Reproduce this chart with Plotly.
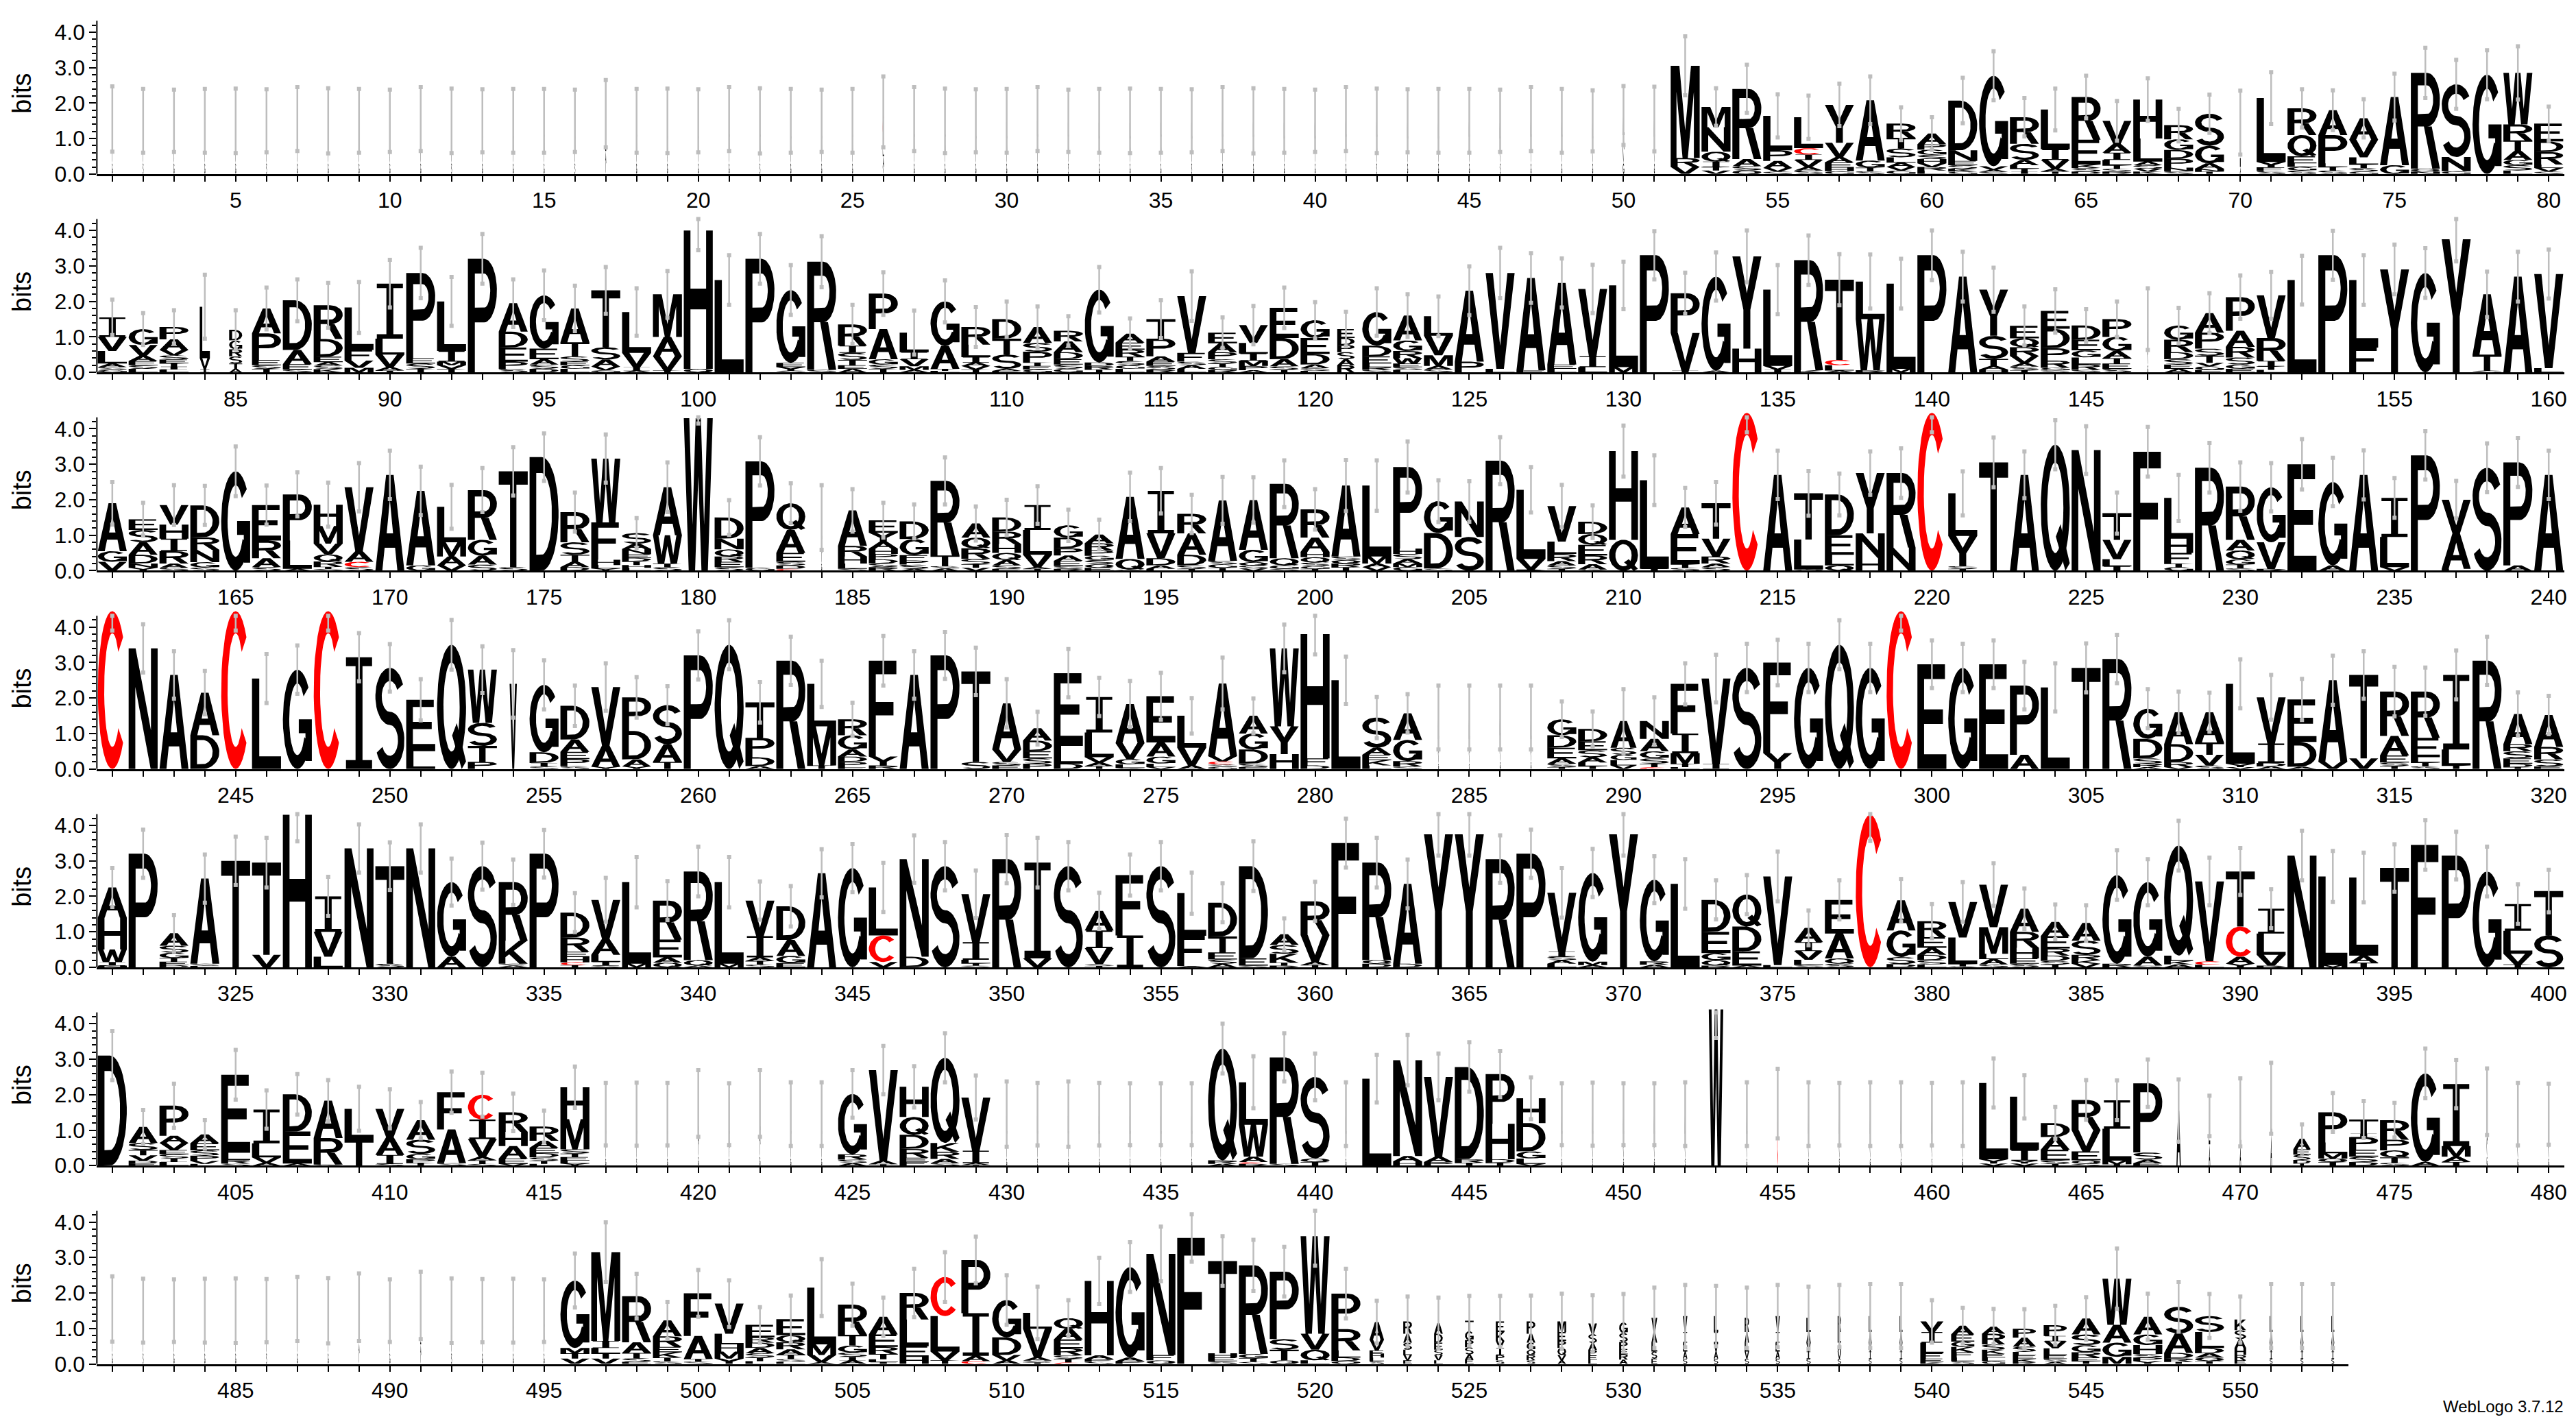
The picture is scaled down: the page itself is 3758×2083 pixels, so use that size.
import numpy as np
import plotly.graph_objects as go

# One token per position: letters from the top of the stack down, height in bits.
# A leading "w.." token is the stack width (columns that are mostly gaps are thin).
r1_stack = [
    "w.03 L.5 A.4 V.35 G.3", "w.03 L.45 A.4 V.35 S.3", "w.03 L.5 A.4 V.3 G.3", "w.03 L.5 A.35 V.35 G.3", "w.03 L.45 A.4 V.35 G.3",
    "w.03 L.5 A.4 V.3 S.3", "w.03 L.5 A.4 V.35 G.3", "w.03 L.45 A.4 V.35 G.3", "w.03 L.5 A.4 V.3 G.3", "w.03 L.5 A.35 V.35 G.3",
    "w.03 L.5 A.4 V.35 G.3", "w.03 L.45 A.4 V.35 S.3", "w.03 L.5 A.4 V.3 G.3", "w.03 L.5 A.35 V.35 G.3", "w.03 L.45 A.4 V.35 G.3",
    "w.03 L.5 A.4 V.3 S.3", "w.03 C.6 L.45 A.35 V.3", "w.03 L.45 A.4 V.35 G.3", "w.03 L.5 A.4 V.3 G.3", "w.03 L.5 A.35 V.35 G.3",
    "w.03 L.5 A.4 V.35 G.3", "w.03 L.45 A.4 V.35 S.3", "w.03 L.5 A.4 V.3 G.3", "w.03 L.5 A.35 V.35 G.3", "w.03 L.45 A.4 V.35 G.3",
    "w.04 C.9 L.35 A.3 V.2", "w.03 L.5 A.4 V.35 G.3", "w.03 L.45 A.4 V.35 G.3", "w.03 L.5 A.4 V.3 G.3", "w.03 L.5 A.35 V.35 G.3",
    "w.03 L.5 A.4 V.35 G.3", "w.03 L.45 A.4 V.35 S.3", "w.03 L.5 A.4 V.3 G.3", "w.03 L.5 A.35 V.35 G.3", "w.03 L.45 A.4 V.35 G.3",
    "w.03 L.5 A.4 V.3 S.3", "w.03 L.5 A.4 V.35 G.3", "w.03 L.45 A.4 V.35 G.3", "w.03 L.5 A.4 V.3 G.3", "w.03 L.5 A.35 V.35 G.3",
    "w.03 L.5 A.4 V.35 G.3", "w.03 L.45 A.4 V.35 S.3", "w.03 L.5 A.4 V.3 G.3", "w.03 L.5 A.35 V.35 G.3", "w.03 L.45 A.4 V.35 G.3",
    "w.03 L.5 A.4 V.3 S.3", "w.03 L.5 A.4 V.35 G.3", "w.03 L.45 A.4 V.35 G.3", "w.03 L.5 A.4 V.3 G.3", "w.05 L.55 A.4 V.4 G.3",
    "w.03 L.5 A.4 V.35 G.3", "M2.6 R.25 V.2", "M.57 N.69 Q.28 I.15 T.1 V.1", "R1.98 A.2 S.12 Q.1", "L.97 P.3 A.2 V.1 S.07",
    "L.87 C.18 I.15 V.2 A.1 S.1", "Y1.07 V.4 A.15 E.15 H.1 G.08", "A1.7 G.2 T.1 S.08", "R.4 T.3 S.25 L.15 A.12 V.1 G.1", "A.3 P.15 G.15 S.12 H.12 V.1 R.1 L.1",
    "D1.4 N.3 E.12 S.1 K.08 G.07", "G2.55 V.1 A.06 S.06", "R.75 S.45 A.15 L.1 T.08 I.07", "L1.12 I.3 V.25 A.08 T.07", "R1.2 E.7 K.1 S.1 D.07",
    "V.65 A.25 I.2 L.15 T.1 S.08 R.07", "H1.1 L.65 A.1 S.1 V.08 K.07", "R.4 G.3 D.25 P.25 N.1 S.08", "S.9 G.5 A.15 N.08 T.07", "w.03 L.6 V.4 I.25 A.2",
    "L1.8 Y.15 F.1 S.09", "R.75 Q.6 E.2 L.1 G.1 S.1", "A.7 P.8 L.1 T.1 S.1", "A.6 V.5 L.2 T.1 S.1 G.07", "A1.92 G.25",
    "R2.7 Q.08 N.07", "S2.05 N.4 G.08", "G2.8", "W1.45 R.45 T.3 A.25 G.15 S.15 L.1", "E.5 D.3 R.35 L.1 V.1 S.07",
]
r1_err = [
    .92, .9, .88, .9, .91, .89, .9, .92, .9, .88,
    .9, .91, .89, .9, .9, .88, .95, .9, .91, .89,
    .9, .92, .9, .88, .9, 1.0, .9, .91, .89, .9,
    .9, .88, .9, .91, .9, .89, .9, .92, .9, .88,
    .9, .91, .89, .9, .9, .88, .9, .9, .86, .83,
    .91, .83, .53, .68, .61, .61, .6, .67, .46, .46,
    .64, .69, .54, .59, .6, .56, .6, .46, .54, .9,
    .73, .54, .56, .54, .66, .71, .69, .69, .75, .48,
]

r2_stack = [
    "I.55 V.4 L.35 A.1 S.08 G.07", "G.45 V.3 A.15 E.12 S.1 L.1", "P.35 A.3 V.15 S.12 E.1 T.1 I.08 L.08", "w.35 L1.45 V.3 I.1", "w.45 D.3 G.25 R.2 S.2 T.15 A.1",
    "A.7 P.75 E.15 S.1 T.1", "D1.4 A.4 E.15 S.08", "R.95 D.5 E.15 A.1 S.1 K.09", "L1.2 F.3 V.2 M.13", "I1.55 L.45 V.35 A.1 T.05",
    "P2.4 E.15 S.15 T.1", "L1.4 I.3 M.1 V.1 T.1", "P3.2", "A.8 D.45 E.4 P.2 S.1", "G1.5 E.3 A.15 S.12 D.1",
    "A.95 T.4 S.15 E.1 G.1 L.1", "T1.6 S.35 A.2 V.1 G.06", "L1.15 V.4 I.1 A.05", "M1.2 A.55 V.4 T.05", "H3.9 Q.1",
    "L2.6", "P3.2", "G2.05 E.12 Y.1 S.05", "R3.05 S.07", "R.6 I.2 S.2 T.15 E.1 A.1",
    "P1.0 A.85 G.15 S.12 T.1", "L.55 I.2 V.2 M.1 A.07", "G1.25 A.65 T.06 L.04", "R.5 L.35 I.15 A.1 V.1 T.08", "D.55 T.45 S.4 A.06 E.04",
    "A.45 S.25 P.3 T.1 E.1 G.08", "R.3 A.3 D.2 E.15 S.12 G.1", "G2.05 D.1 R.1 T.08", "A.25 E.2 R.2 T.12 S.12 G.1 L.1", "T.55 P.5 A.15 E.12 S.1 R.08",
    "V1.6 F.25 S.1 A.1 L.1", "E.3 A.25 P.2 S.12 T.1 G.08 R.07", "V.5 L.3 I.2 M.15 P.12 A.06", "E.85 D.6 A.2 S.1 T.07", "G.5 E.45 D.3 A.1 S.08 L.04",
    "w.6 E.25 D.2 P.2 S.2 A.17 R.2", "G.95 D.3 E.2 L.1 R.08 S.07", "A.7 G.3 R.2 W.15 E.1 S.08 L.07", "L.55 V.55 M.3 A.1 S.08", "A2.0 P.3",
    "V2.7 L.1", "A2.6 E.06", "A2.3 E.12 L.1", "V1.9 I.3 L.15", "L2.3 M.15",
    "P3.3", "P1.12 V1.06 I.05", "G2.65 A.05", "Y2.6 H.67", "L2.15 V.1 I.08",
    "R3.1 K.06", "T2.26 C.15 L.15 A.05", "L1.06 W1.44 R.06", "L2.4 M.1", "P3.3",
    "A2.7", "Y1.3 S.65 T.2 A.1 H.08", "E.35 Q.25 R.25 V.2 A.1 S.1 T.06", "E.5 D.55 P.35 R.2 G.07 S.06", "D.4 E.3 G.2 L.2 R.15 S.07",
    "P.5 G.4 A.2 T.15 E.15 S.1", "w.03 L.6 A.4 V.3 G.2", "G.4 R.35 D.2 S.15 E.12 A.1", "A.55 P.45 S.2 T.2 V.1 G.1 E.07", "P.95 A.45 R.3 S.2 G.12 E.1",
    "V1.2 R.65 I.15 T.1 L.07", "L2.6", "P3.3", "L1.9 F.7", "Y2.9",
    "G2.8", "Y3.75", "A1.7 T.45 S.05", "A2.7", "V2.65 L.12",
]
r2_err = [
    .5, .45, .47, .9, .55, .59, .59, .63, .72, .67,
    .71, .69, .7, .67, .7, .64, .66, .67, .66, .56,
    .7, .7, .7, .72, .55, .6, .62, .59, .56, .5,
    .58, .41, .64, .43, .53, .7, .43, .54, .57, .51,
    .49, .67, .6, .56, .69, .71, .7, .69, .68, .67,
    .68, .58, .68, .73, .69, .7, .72, .76, .7, .7,
    .7, .62, .55, .61, .46, .5, .87, .5, .56, .61,
    .66, .69, .69, .7, .7, .7, .62, .64, .7, .69,
]

r3_stack = [
    "A1.35 G.3 V.25", "E.3 S.35 A.35 D.25 N.12 Y.08", "V.55 H.4 I.35 R.35 A.12 S.08", "D.9 R.35 N.35 G.15 S.09", "G2.8",
    "E1.0 R.5 A.25 S.1", "P1.3 L.8 A.05", "H.6 M.5 V.3 Q.2 R.15 T.06 S.05", "V1.8 A.3 C.15 S.1", "A2.7",
    "A2.1 G.15", "L1.0 M.4 A.25 V.15", "R1.4 G.45 A.25 S.17", "T2.7 S.1", "D3.2",
    "R.85 S.35 T.2 A.15 D.1", "W1.8 F1.05 H.15 L.1 Y.06", "S.3 A.15 N.15 E.1 D.1 T.1 H.08 L.08", "A1.35 W.8 T.1 S.1", "W4.3",
    "D.6 N.3 Q.2 R.15 E.15 S.1", "P3.0 G.08", "Q.75 A.65 E.25 S.1 D.1 C.05", "w.03 L.6 A.4 V.3 G.2", "A1.0 R.3 H.2 L.15 S.05",
    "E.35 Y.25 A.2 H.15 P.15 D.12 S.1 R.1", "D.5 G.45 F.15 P.12 S.12 A.05", "R2.1 T.3 S.07 A.06", "A.4 Q.3 R.3 S.15 T.1 V.08", "D.4 R.35 H.25 Q.2 A.15 S.1 E.05",
    "I.7 L.7 V.35 A.05 T.05", "G.35 D.3 P.2 A.15 E.15 S.08 R.05", "A.25 R.2 P.15 G.12 S.12 Q.1 E.08", "A1.75 Q.3 S.03", "I1.2 V.7 D.2 A.1 L.05",
    "R.55 A.6 D.3 S.1 T.05", "A1.7 S.1 G.1 T.08", "A1.4 G.35 Q.1 S.08 V.06", "R2.1 Q.2 G.1 S.05", "R.8 A.4 H.15 Q.15 S.1 G.08 T.05",
    "A2.0 S.1 Q.1 R.1 T.1", "L2.0 M.2 A.1 V.1", "P2.3 H.15 S.15 A.12 M.1 G.1", "G.9 D1.0 S.06", "N1.0 S.95",
    "R3.1", "L1.95 V.3 R.03", "V1.0 L.35 R.2 A.12 S.1 T.05", "D.35 Q.3 E.3 R.25 A.15 S.03", "H2.5 Q.87",
    "L2.5 I.05", "A.75 E.85 T.1 S.08", "T1.0 V.5 R.2 A.1 S.1", "C4.45", "A2.7",
    "T1.3 L.85 Q.03", "D1.15 E.55 L.3 Q.15", "Y1.7 N.7 H.35", "R2.1 N.65", "C4.45",
    "L1.2 Y.85 S.08 T.05", "T3.05", "A2.7", "Q3.55", "N3.4",
    "T.75 V.55 L.2 I.12", "F3.35", "L1.15 H.4 F.3 T.1 G.1", "R2.9", "R1.5 A.3 Q.25 G.15 T.1 S.07",
    "G1.55 V.75 R.05", "E3.0", "G2.35 A.15", "A2.7", "I1.1 L.85 V.1",
    "P3.25", "V.95 A1.0 L.05", "S2.9", "P2.9 A.15", "A2.7",
]
r3_err = [
    .6, .46, .56, .55, .7, .55, .62, .62, .68, .68,
    .68, .62, .62, .68, .67, .55, .68, .42, .7, .15,
    .49, .68, .56, .91, .6, .49, .48, .66, .48, .5,
    .53, .44, .42, .68, .64, .54, .66, .64, .66, .57,
    .72, .71, .72, .59, .57, .66, .64, .6, .46, .72,
    .7, .55, .6, .55, .68, .63, .59, .61, .7, .55,
    .62, .7, .66, .69, .67, .58, .7, .65, .7, .68,
    .68, .71, .68, .69, .56, .68, .53, .69, .69, .68,
]

r4_stack = [
    "C4.45", "N3.4", "A2.65", "A1.2 D.95", "C4.45",
    "L2.55", "G2.8", "C4.45", "I3.15", "S2.85",
    "E1.45 L.5", "Q3.5", "W1.5 S.65 T.45 P.2", "w.25 V2.4", "G1.9 D.3 I.1 S.07",
    "D.95 A.35 E.2 P.2 S.08", "V1.65 A.6 Y.06", "P.95 D.8 A.2 Y.07", "S1.1 A.5 T.2", "P3.2",
    "Q3.5", "T1.0 P.55 D.25 A.08", "R3.05", "L1.2 M1.1 T.1", "R.45 G.4 A.2 D.15 P.15 F.05",
    "F2.7 Y.25 R.1", "A2.65", "P3.2", "T2.55 S.2", "A1.3 V.35 S.1 E.1",
    "A.35 D.3 E.2 S.15 P.15", "E2.05 L.5 D.15", "I1.0 L.7 V.15 A.1 T.08", "A1.1 V.45 G.15 L.1 S.03", "E1.3 A.4 G.2 L.1 V.05",
    "L.9 V.5 A.1", "A2.05 V.15 C.08 S.07 G.06", "A.5 G.45 D.4 S.1 E.05", "W2.2 Y.78 H.42", "H3.5 F.2 D.1",
    "L2.5", "S.85 A.2 E.15 K.15 L.1", "A.75 G.6 R.15 S.07", "w.03 L.6 A.4 V.3 G.15", "w.03 L.6 A.4 V.3 S.15",
    "w.03 L.5 A.45 V.3 G.2", "w.03 L.6 A.4 V.25 G.2", "G.45 D.35 E.3 A.15 S.1 T.05", "D.35 E.25 S.2 A.15 L.1 T.08", "w.9 A.75 S.2 G.15 L.15 V.1",
    "N.5 A.35 G.2 S.15 T.1 C.05", "F1.4 I.55 M.3 T.1 L.05", "V2.4 I.15", "S2.85", "F2.55 Y.45",
    "G2.85", "Q3.5", "G2.85", "C4.45", "E2.95",
    "G2.85", "E2.95", "P1.95 A.4", "L2.3", "T2.85",
    "R3.1", "G.85 D.55 S.15 R.1 A.05", "A.9 D.5 R.15 V.05", "A.85 T.35 V.3 S.1", "L2.25 Y.1 V.05",
    "V1.3 I.55 D.1 A.07", "E1.2 D.7 A.06", "A2.3 V.2", "T2.35 V.3", "R1.25 A.55 E.2 S.1 T.08",
    "R1.3 E.55 L.15 T.1 S.08", "I2.1 L.45 T.1", "R3.05", "A.85 R.2 S.2 E.15 D.1 T.05", "A.9 R.35 S.2 E.07",
]
r4_err = [
    .55, .68, .67, .61, .55, .69, .68, .55, .68, .67,
    .58, .7, .66, .95, .69, .57, .67, .57, .53, .68,
    .69, .57, .68, .65, .47, .7, .67, .66, .67, .68,
    .46, .68, .54, .65, .66, .5, .73, .49, .67, .57,
    .67, .58, .54, .9, .9, .9, .9, .5, .49, .9,
    .67, .58, .67, .68, .64, .68, .69, .68, .55, .67,
    .68, .67, .67, .68, .69, .68, .55, .58, .55, .69,
    .63, .58, .69, .67, .7, .68, .69, .68, .61, .54,
]

r5_stack = [
    "A.85 H.9 W.35 I.1 N.05", "P3.2", "A.35 S.2 G.15 T.1 E.1 D.06", "A2.4 S.06 L.04", "T3.0",
    "T2.6 V.35", "H4.3", "I1.0 V.7 L.3", "N3.35", "T2.75 S.1",
    "N3.35", "G2.1 A.3", "S2.85", "R1.65 K.65 S.05 A.05", "P3.2",
    "D.7 R.4 E.15 H.15 C.08 T.06", "V1.1 A.45 L.2 I.1 S.05", "L2.3 M.1", "R1.1 E.5 A.15 Q.13", "R2.5 Q.15 A.05",
    "L2.3 M.1", "V1.0 I.6 A.1 T.1 S.08", "D.95 A.45 G.2 E.12", "A2.65", "G2.8",
    "L1.35 C.75 V.15", "N2.75 D.3", "S2.85", "V1.35 I.5 L.1 T.06 S.05", "R3.05",
    "I2.7 V.25", "S2.85", "A.55 I.5 V.45 S.05 T.04", "F1.7 I.9", "S2.85",
    "L1.2 F.85 A.04", "D.95 T.45 E.2 S.12 A.1", "D2.6 E.2 S.05", "A.3 S.25 K.25 T.08 R.05", "R.95 V.75 A.1 T.06",
    "F3.5", "R2.75 Q.1 D.1", "A2.25 D.1", "Y3.75", "Y3.75",
    "R3.05", "P3.2", "V1.65 I.15 S.1 A.1 L.1", "G2.5 M.1 A.06", "Y3.75",
    "G2.3 R.1 A.07", "L2.35", "D.9 E.6 G.2 Q.15 R.05", "Q.9 D.7 E.4 A.05", "V2.5 L.06",
    "A.4 I.25 V.25 L.15 S.06", "E.95 A.7 Q.15 S.1", "C4.3", "A.85 G.75 S.2 D.09", "R.45 E.3 A.2 D.15 S.12 L.08",
    "V1.0 L.75 T.06 S.03", "V1.2 M.75 L.15 A.15 S.08", "A.65 R.45 H.3 E.15 S.1", "A.4 E.35 R.2 D.15 S.1 T.08", "A.5 S.4 R.15 K.1 V.1",
    "G2.5 R.1", "G2.1 A.25 S.05", "Q3.1 L.15 K.1 A.08", "V2.25 C.1 L.07", "T1.55 C.85 A.2 Y.1",
    "I.7 L.6 V.3 R.05", "N3.15", "L2.5 M.06", "L2.2 A.2 T.13", "T2.8",
    "F3.45", "P3.15", "G2.7", "I.75 L.65 V.3 T.08", "T1.25 S.9",
]
r5_err = [
    .55, .68, .51, .68, .68, .7, .75, .55, .68, .67,
    .68, .66, .66, .64, .67, .55, .62, .71, .55, .7,
    .71, .54, .57, .68, .68, .69, .67, .68, .67, .68,
    .7, .68, .51, .58, .68, .58, .55, .7, .45, .55,
    .69, .7, .69, .6, .6, .67, .68, .7, .68, .6,
    .66, .7, .55, .55, .7, .49, .55, .74, .6, .48,
    .56, .6, .57, .49, .5, .7, .65, .7, .67, .66,
    .55, .7, .72, .7, .67, .7, .67, .7, .56, .6,
]

r6_stack = [
    "D3.1", "A.45 S.2 T.15 V.15 D.08 E.06", "P.85 A.2 V.2 E.12 S.12 I.1 L.1", "A.25 E.2 S.15 P.15 V.08 L.05", "E2.2 L.2 R.1 S.06",
    "I.95 L.4 V.15 A.08", "D1.05 E.9 A.06", "A1.05 R.75 S.03", "L.85 T.75", "V.8 A.5 I.25 S.05",
    "A.55 S.4 G.15 P.1 T.08", "F1.05 A.95 S.07", "C.7 I.55 V.5 A.1 T.1 S.05", "R.55 H.4 A.35 E.15 V.05", "R.4 A.2 E.15 D.12 S.1 T.08 L.05",
    "H.9 M.85 S.12 T.1 E.1 L.08 Y.06", "w.03 L.55 A.4 V.3 G.2", "w.03 L.55 A.4 V.3 S.2", "w.03 L.55 A.4 V.3 G.2", "w.03 L.75 A.4 V.35 G.25",
    "w.03 L.55 A.4 V.3 G.2", "w.03 L.75 A.4 V.35 G.25", "w.03 L.55 A.4 V.3 G.2", "w.03 L.55 A.4 V.3 G.2", "G1.7 R.15 S.1 A.07",
    "V2.55 A.1 T.04", "H.85 Q.5 D.4 R.25 E.12 F.1", "Q2.4 K.25 R.2 A.12 S.07", "V1.5 I.35 A.05 T.02", "w.03 L.55 A.4 V.3 G.2",
    "w.03 L.55 A.4 V.3 S.2", "w.03 L.55 A.4 V.3 G.2", "w.03 L.55 A.4 V.3 G.2", "w.03 L.55 A.4 V.3 S.2", "w.03 L.55 A.4 V.3 G.2",
    "w.03 L.55 A.4 V.3 G.2", "Q3.15 R.1 A.05", "L1.2 W.9 A.15 C.05 R.05", "R3.0 S.05", "S2.3 Q.1 T.1",
    "w.03 L.55 A.4 V.3 G.2", "L2.45", "N2.7 A.15 H.12", "V2.25 A.15 P.1", "D2.6 R.1 T.08",
    "P1.4 H1.0 D.1 T.08", "H.7 D.8 G.2 L.15 V.05", "w.03 L.55 A.4 V.3 G.2", "w.03 L.55 A.4 V.3 S.2", "w.03 L.55 A.4 V.3 G.2",
    "w.03 L.55 A.4 V.3 G.2", "w.03 L.55 A.4 V.3 S.2", "w.5 W4.4", "w.03 L.55 A.4 V.3 G.2", "w.03 C1.75",
    "w.03 L.55 A.4 V.3 G.2", "w.03 L.55 A.4 V.3 S.2", "w.03 L.55 A.4 V.3 G.2", "w.03 L.55 A.4 V.3 G.2", "w.03 L.55 A.4 V.3 S.2",
    "w.03 L.55 A.4 V.3 G.2", "L2.15 Y.12 V.06", "L1.5 I.3 Y.08 V.06", "D.4 A.35 E.3 S.1 T.05", "R.85 V.6 E.25 Q.1 S.05",
    "I.8 L.9 M.1 T.04", "P1.95 S.2 A.1 E.07", "w.15 A1.55", "w.05 L.8 A.6", "w.05 L.9 A.6",
    "w.05 L1.0 A.9", "w.6 A.3 E.15 S.15 D.1 T.06", "P.85 L.3 M.15 Q.1 T.1", "T.4 I.1 P.35 E.2 S.15 D.1", "R.55 P.3 Q.2 T.15 S.08",
    "G2.5 A.1", "I1.75 M.3 A.15 T.1", "w.03 L.75 A.45 V.35 G.25", "w.03 L.55 A.4 V.3 G.2", "w.03 L.55 A.4 V.3 G.2",
]
r6_err = [
    .69, .48, .62, .4, .7, .54, .57, .58, .62, .55,
    .51, .58, .62, .53, .45, .58, .88, .89, .88, .94,
    .87, .94, .9, .9, .67, .68, .58, .69, .62, .92,
    .88, .92, .88, .87, .87, .87, .7, .73, .68, .66,
    .9, .67, .71, .66, .7, .65, .59, .87, .89, .87,
    .87, .9, .8, .9, .98, .9, .88, .9, .9, .88,
    .9, .69, .61, .45, .56, .56, .67, .88, .57, .96,
    1.0, .4, .55, .52, .49, .7, .68, .94, .88, .86,
]

r7_stack = [
    "w.03 L.5 A.4 V.35 G.3", "w.03 L.45 A.4 V.35 S.3", "w.03 L.5 A.4 V.3 G.3", "w.03 L.5 A.35 V.35 G.3", "w.03 L.45 A.4 V.35 G.3",
    "w.03 L.5 A.4 V.3 S.3", "w.03 L.5 A.4 V.35 G.3", "w.03 L.45 A.4 V.35 G.3", "w.03 C.6 L.4 A.3 V.3", "w.03 L.5 A.35 V.35 G.3",
    "w.03 C.7 L.4 A.3 V.25", "w.03 L.45 A.4 V.35 S.3", "w.03 L.5 A.4 V.3 G.3", "w.03 L.5 A.35 V.35 G.3", "w.03 L.45 A.4 V.35 G.3",
    "G1.9 M.15 T.15 V.15", "M2.5 I.2 L.15 T.15 V.15", "R1.3 A.3 T.15 S.1 E.06", "A.45 R.3 E.15 K.15 T.1 S.08", "F1.2 A.65 T.07 S.07",
    "V.85 L.3 H.2 M.2 Y.15", "E.35 R.15 D.15 A.15 S.12 T.1 L.08", "E.45 Q.2 R.2 A.15 T.12 S.08 L.06", "L1.6 M.3 V.2 A.05", "R.85 T.3 G.2 S.12 I.1 A.1",
    "A.5 E.35 R.2 T.15 L.08 I.05", "R.75 L.75 E.3 H.2", "C1.1 L1.0 V.25 T.1", "P1.5 I1.2 A.15 C.08", "G1.05 D.5 V.15 A.1",
    "L.45 V.8 A.1 S.05 T.04", "Q.3 A.3 E.25 R.2 S.1 T.1 C.04", "H2.1 A.1 P.08 S.06", "G2.55 A.1 P.08", "N2.85 F.15 Q.1",
    "F3.55", "T2.6 H.12 E.1 S.08", "R2.5 G.12 T.1 S.06", "P1.9 S.3 T.3 Q.1", "W2.75 V.45 Q.3 L.1",
    "P1.0 R.6 L.2 D.1 Q.08", "w.5 A.5 V.3 E.1 H.1 L.1 S.08", "w.3 R.35 A.25 S.2 L.15 V.15 E.1", "w.3 A.3 D.25 E.2 S.15 V.15 L.1", "w.3 T.3 G.25 P.2 S.2 A.15 E.12",
    "w.3 E.3 K.25 V.2 I.2 P.15 S.1", "w.3 P.35 A.25 G.2 Q.15 R.15 S.1", "w.3 M.3 E.25 P.2 Q.2 V.15 A.1", "w.3 V.3 S.25 A.2 P.15 E.12 L.12", "w.3 G.3 S.25 P.2 E.15 R.15 A.12",
    "w.2 V.4 A.3 L.25 S.2 E.15", "w.15 V.45 I.3 L.25 A.2 S.15", "w.15 L.45 I.3 V.25 A.2 S.15", "w.15 R.4 A.3 L.25 V.2 S.15", "w.15 V.45 I.3 L.25 A.2 S.15",
    "w.15 L.4 A.3 V.25 I.2 S.15", "w.12 R.45 L.3 A.25 V.2 S.15", "w.1 L.45 A.3 V.25 I.2 S.15", "w.1 L.45 A.3 V.25 I.2 S.15", "w.8 V.3 I.3 L.3 F.15 E.1 K.05",
    "w.8 A.25 E.2 G.15 K.15 F.15 L.1 S.08", "w.8 A.2 R.3 S.15 K.12 E.1 L.1 G.08", "w.8 P.25 A.25 S.15 L.1 E.1 K.08 R.06", "w.8 P.3 I.15 V.2 L.2 E.1 S.08 A.06", "A.45 S.3 G.2 R.15 E.1 T.08",
    "W1.3 A.5 G.4 M.2", "A.5 G.3 H.25 S.1 P.1 Y.08", "S.75 A.55 D.15 R.1 T.06", "S.45 L.45 D.15 A.12 Q.1 T.08", "w.4 K.3 S.25 A.25 H.2 R.15 E.1",
    "w.1 L.45 A.3 V.25 I.2 S.15", "w.1 L.45 A.3 V.25 I.2 S.15", "w.1 L.45 A.3 V.25 I.2 S.15",
]
r7_err = [
    .92, .9, .88, .9, .91, .89, .9, .92, .95, .88,
    .95, .91, .89, .9, .88, .76, .84, .63, .52, .66,
    .66, .5, .67, .8, .59, .54, .68, .7, .66, .7,
    .74, .51, .65, .7, .77, .67, .7, .72, .7, .83,
    .7, .6, .7, .72, .7, .72, .73, .78, .8, .8,
    .85, .88, .85, .85, .88, .88, .88, .9, .9, .6,
    .5, .5, .55, .55, .6, .85, .65, .7, .62, .65,
    .9, .9, .9,
]

rows = [
    (1, r1_stack, r1_err), (81, r2_stack, r2_err), (161, r3_stack, r3_err),
    (241, r4_stack, r4_err), (321, r5_stack, r5_err), (401, r6_stack, r6_err),
    (481, r7_stack, r7_err),
]

RED_LETTERS = "C"
MAX_BITS = 4.32


def arc(cx, cy, rx, ry, a0, a1, n=26):
    t = np.radians(np.linspace(a0, a1, n))
    return list(zip(cx + rx * np.cos(t), cy + ry * np.sin(t)))


def band(cx, cy, rxo, ryo, rxi, ryi, a0, a1, n=30):
    return arc(cx, cy, rxo, ryo, a0, a1, n) + arc(cx, cy, rxi, ryi, a1, a0, n)


def rect(x0, y0, x1, y1):
    return [(x0, y0), (x1, y0), (x1, y1), (x0, y1)]


# glyph outlines in a unit box; "ink" filled, "hole" punched out in white, "over" inked after holes
P_OUT = [(0, 0), (0, 1), (0.56, 1)] + arc(0.56, 0.72, 0.44, 0.28, 90, -90) + [(0.24, 0.44), (0.24, 0)]
P_HOLE = [(0.24, 0.57), (0.56, 0.57)] + arc(0.56, 0.72, 0.21, 0.15, -90, 90) + [(0.24, 0.87)]
GLYPHS = {
    "A": [("ink", [(0, 0), (0.37, 1), (0.63, 1), (1, 0), (0.76, 0), (0.68, 0.24), (0.32, 0.24), (0.24, 0)]),
          ("hole", [(0.39, 0.39), (0.61, 0.39), (0.5, 0.74)])],
    "C": [("ink", band(0.5, 0.5, 0.5, 0.5, 0.28, 0.36, 42, 318))],
    "D": [("ink", [(0, 0), (0.42, 0)] + arc(0.42, 0.5, 0.58, 0.5, -90, 90) + [(0, 1)]),
          ("hole", [(0.23, 0.14), (0.42, 0.14)] + arc(0.42, 0.5, 0.35, 0.36, -90, 90) + [(0.23, 0.86)])],
    "E": [("ink", [(0, 0), (0, 1), (0.95, 1), (0.95, 0.86), (0.23, 0.86), (0.23, 0.57), (0.88, 0.57),
                   (0.88, 0.43), (0.23, 0.43), (0.23, 0.14), (1, 0.14), (1, 0)])],
    "F": [("ink", [(0, 0), (0, 1), (0.95, 1), (0.95, 0.86), (0.24, 0.86), (0.24, 0.57), (0.85, 0.57),
                   (0.85, 0.43), (0.24, 0.43), (0.24, 0)])],
    "G": [("ink", band(0.5, 0.5, 0.5, 0.5, 0.28, 0.36, 40, 330)),
          ("ink", rect(0.55, 0.36, 1.0, 0.5)), ("ink", rect(0.78, 0.08, 1.0, 0.5))],
    "H": [("ink", [(0, 0), (0, 1), (0.23, 1), (0.23, 0.58), (0.77, 0.58), (0.77, 1), (1, 1), (1, 0),
                   (0.77, 0), (0.77, 0.43), (0.23, 0.43), (0.23, 0)])],
    "I": [("ink", [(0.05, 0), (0.05, 0.08), (0.38, 0.08), (0.38, 0.92), (0.05, 0.92), (0.05, 1), (0.95, 1),
                   (0.95, 0.92), (0.62, 0.92), (0.62, 0.08), (0.95, 0.08), (0.95, 0)])],
    "K": [("ink", [(0, 0), (0, 1), (0.23, 1), (0.23, 0.52), (0.7, 1), (0.98, 1), (0.52, 0.56), (1, 0),
                   (0.71, 0), (0.36, 0.41), (0.23, 0.28), (0.23, 0)])],
    "L": [("ink", [(0, 0), (0, 1), (0.25, 1), (0.25, 0.14), (1, 0.14), (1, 0)])],
    "M": [("ink", [(0, 0), (0, 1), (0.3, 1), (0.5, 0.3), (0.7, 1), (1, 1), (1, 0), (0.8, 0), (0.8, 0.72),
                   (0.59, 0), (0.41, 0), (0.2, 0.72), (0.2, 0)])],
    "N": [("ink", [(0, 0), (0, 1), (0.24, 1), (0.77, 0.32), (0.77, 1), (1, 1), (1, 0), (0.76, 0),
                   (0.23, 0.68), (0.23, 0)])],
    "P": [("ink", P_OUT), ("hole", P_HOLE)],
    "Q": [("ink", arc(0.5, 0.5, 0.5, 0.5, 0, 360, 60)), ("hole", arc(0.5, 0.5, 0.28, 0.36, 0, 360, 60)),
          ("over", [(0.52, 0.27), (0.68, 0.37), (1.0, 0.06), (0.85, 0.0)])],
    "R": [("ink", P_OUT), ("ink", [(0.45, 0.44), (0.72, 0.44), (1, 0), (0.74, 0)]), ("hole", P_HOLE)],
    "S": [("ink", band(0.5, 0.7175, 0.5, 0.2825, 0.28, 0.1525, 25, 270)),
          ("ink", band(0.5, 0.2825, 0.5, 0.2825, 0.28, 0.1525, 90, -155))],
    "T": [("ink", [(0, 1), (1, 1), (1, 0.86), (0.61, 0.86), (0.61, 0), (0.39, 0), (0.39, 0.86), (0, 0.86)])],
    "V": [("ink", [(0, 1), (0.25, 1), (0.5, 0.24), (0.75, 1), (1, 1), (0.63, 0), (0.37, 0)])],
    "W": [("ink", [(0, 1), (0.19, 1), (0.3, 0.3), (0.41, 1), (0.59, 1), (0.7, 0.3), (0.81, 1), (1, 1),
                   (0.83, 0), (0.61, 0), (0.5, 0.62), (0.39, 0), (0.17, 0)])],
    "Y": [("ink", [(0, 1), (0.27, 1), (0.5, 0.6), (0.73, 1), (1, 1), (0.62, 0.42), (0.62, 0), (0.38, 0),
                   (0.38, 0.42)])],
}


def parse(tok):
    parts = tok.split()
    w = 1.0
    if parts[0].startswith("w"):
        w = float(parts[0][1:])
        parts = parts[1:]
    return w, [(p[0], float(p[1:])) for p in parts]


W_PX, H_PX = 3758, 2083
X0_PX, COL_PX = 156.0, 45.04
BITS_PX = 52.2
YMAX = 4.55

fig = go.Figure()
layout = dict(
    width=W_PX, height=H_PX, margin=dict(l=0, r=0, t=0, b=0),
    paper_bgcolor="white", plot_bgcolor="white", showlegend=False,
)
tick_font = dict(family="Liberation Sans Narrow, Arial Narrow, Liberation Sans, Arial", size=32, color="black")
shapes = []

for r, (start, stack, errs) in enumerate(rows, start=1):
    n = len(stack)
    xa, ya = ("x", "y") if r == 1 else (f"x{r}", f"y{r}")
    polys = {("ink", "black"): [[], []], ("ink", "red"): [[], []],
             ("hole", "white"): [[], []], ("over", "black"): [[], []]}
    ex, ey = [], []
    for i, tok in enumerate(stack):
        pos = start + i
        w, letters = parse(tok)
        gw = 0.94 * w
        y0 = 0.0
        for letter, h in reversed(letters):
            color = "red" if letter in RED_LETTERS else "black"
            for layer, pts in GLYPHS.get(letter, [("ink", rect(0, 0, 1, 1))]):
                key = ("hole", "white") if layer == "hole" else (layer, color if layer == "ink" else "black")
                xs = [pos - gw / 2 + px * gw for px, _ in pts]
                ys = [y0 + py * h for _, py in pts]
                polys[key][0] += xs + [xs[0], None]
                polys[key][1] += ys + [ys[0], None]
            y0 += h
        e = errs[i]
        ex += [pos, pos, None]
        ey += [max(y0 - e, 0), min(y0 + e, MAX_BITS), None]

    for (layer, color), (xs, ys) in polys.items():
        if not xs:
            continue
        fig.add_trace(go.Scatter(x=xs, y=ys, mode="lines", fill="toself", fillcolor=color,
                                 line=dict(width=0, color=color), hoverinfo="skip",
                                 xaxis=xa, yaxis=ya))
    fig.add_trace(go.Scatter(x=ex, y=ey, mode="lines+markers",
                             line=dict(color="#bdbdbd", width=2.5),
                             marker=dict(symbol="square", size=6, color="#bdbdbd"),
                             hoverinfo="skip", xaxis=xa, yaxis=ya))

    # pixel geometry of this row
    ncols = 80 if n == 80 else n
    left_px = X0_PX - COL_PX / 2
    right_px = left_px + ncols * COL_PX
    base_px = 248 + 291.8 * (r - 1)
    top_px = base_px - YMAX * BITS_PX
    xdom = [left_px / W_PX, right_px / W_PX]
    ydom = [1 - base_px / H_PX, 1 - top_px / H_PX]
    positions = list(range(start, start + n))
    layout["xaxis" if r == 1 else f"xaxis{r}"] = dict(
        domain=xdom, anchor=ya, range=[start - 0.5, start + ncols - 0.5],
        showgrid=False, zeroline=False, showline=True, linecolor="black", linewidth=3,
        ticks="outside", ticklen=8, tickwidth=2, tickcolor="black",
        tickvals=positions, ticktext=[str(p) if p % 5 == 0 else "" for p in positions],
        tickfont=tick_font, tickangle=0,
    )
    layout["yaxis" if r == 1 else f"yaxis{r}"] = dict(
        domain=ydom, anchor=xa, range=[0, YMAX], showgrid=False, zeroline=False, showline=False,
        ticks="outside", ticklen=10, tickwidth=2, tickcolor="black",
        tickvals=[0, 1, 2, 3, 4], ticktext=["0.0", "1.0", "2.0", "3.0", "4.0"], tickfont=tick_font,
        minor=dict(tickvals=[v / 5 for v in range(1, 22) if v % 5], ticks="outside", ticklen=6,
                   tickwidth=2, tickcolor="black"),
        title=dict(text="bits", font=dict(family="Liberation Sans, Arial", size=38, color="black"), standoff=22),
    )
    shapes.append(dict(type="line", xref="paper", yref=ya, x0=xdom[0], x1=xdom[0], y0=0, y1=MAX_BITS,
                       line=dict(color="black", width=2)))

layout["shapes"] = shapes
layout["annotations"] = [dict(text="WebLogo 3.7.12", xref="paper", yref="paper", x=3738 / W_PX, y=1 - 2061 / H_PX,
                              xanchor="right", yanchor="middle", showarrow=False,
                              font=dict(family="Liberation Sans, Arial", size=24, color="black"))]
fig.update_layout(**layout)
fig.write_html("out.html")
